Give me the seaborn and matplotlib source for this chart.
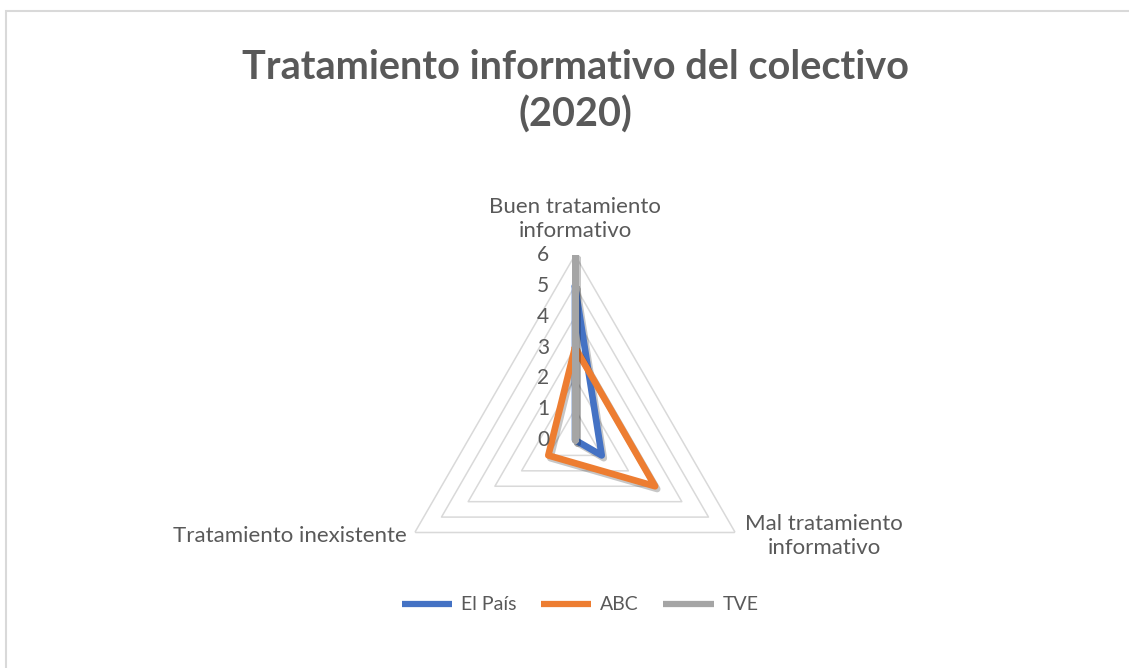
import numpy as np
import pandas as pd
import matplotlib
matplotlib.use("Agg")
import matplotlib.pyplot as plt
import matplotlib.patheffects as pe
from matplotlib.patches import Rectangle
import seaborn as sns

# datos del grafico
categorias = ["Buen tratamiento\ninformativo", "Mal tratamiento\ninformativo", "Tratamiento inexistente"]
el_pais = [5, 1, 0]
abc = [3, 3, 1]
tve = [6, 0, 0]
series = ["El País", "ABC", "TVE"]
colores = ["#4472C4", "#ED7D31", "#A5A5A5"]
niveles = [0, 1, 2, 3, 4, 5, 6]

sns.set_theme(style="white")
plt.rcParams["font.family"] = ["Lato", "DejaVu Sans"]
gris_txt = "#595959"

fig = plt.figure(figsize=(11.29, 6.68), dpi=100)
cx, cy, rad = 575, 440, 185
ax = fig.add_axes([(cx - rad) / 1129, (668 - cy - rad) / 668, 2 * rad / 1129, 2 * rad / 668],
                  projection="polar")
ax.set_theta_offset(np.pi / 2)
ax.set_theta_direction(-1)

ang = np.linspace(0, 2 * np.pi, len(categorias), endpoint=False)
ang_c = np.append(ang, ang[0])

# anillos triangulares
for r in niveles[1:]:
    ax.plot(ang_c, [r] * len(ang_c), color="#D9D9D9", lw=1.1, zorder=1)

for nombre, vals, col in zip(series, [el_pais, abc, tve], colores):
    df = pd.DataFrame({"ang": ang_c, "val": vals + vals[:1]})
    sns.lineplot(data=df, x="ang", y="val", sort=False, estimator=None, ax=ax,
                 color=col, lw=4.8, label=nombre, zorder=3)

for ln in ax.get_lines()[len(niveles) - 1:]:
    ln.set_solid_joinstyle("round")
    ln.set_solid_capstyle("round")
    ln.set_path_effects([pe.SimpleLineShadow(offset=(1.5, -2), alpha=0.22, shadow_color="black"),
                         pe.Normal()])

ax.set_ylim(0, 6)
ax.grid(False)
ax.set_xticks([])
ax.set_yticks([])
ax.set_xlabel("")
ax.set_ylabel("")
ax.spines["polar"].set_visible(False)
ax.patch.set_alpha(0)

for r in niveles:
    ax.annotate(str(r), xy=(0, r), xytext=(-26, 0), textcoords="offset pixels",
                ha="right", va="center", fontsize=15, color=gris_txt)

ax.annotate(categorias[0], xy=(ang[0], 6), xytext=(0, 14), textcoords="offset pixels",
            ha="center", va="bottom", fontsize=16, color=gris_txt, multialignment="center",
            linespacing=1.25)
ax.annotate(categorias[1], xy=(ang[1], 6), xytext=(10, -3), textcoords="offset pixels",
            ha="left", va="center", fontsize=16, color=gris_txt, multialignment="center",
            linespacing=1.25)
ax.annotate(categorias[2], xy=(ang[2], 6), xytext=(-8, -4), textcoords="offset pixels",
            ha="right", va="center", fontsize=16, color=gris_txt)

handles, labels = ax.get_legend_handles_labels()
ax.get_legend().remove()
leg = fig.legend(handles, labels, loc="center", bbox_to_anchor=(580 / 1129, 1 - 605 / 668),
                 ncol=3, frameon=False, fontsize=14, handlelength=2.6, columnspacing=1.25,
                 handletextpad=0.45)
for t in leg.get_texts():
    t.set_color(gris_txt)
for h in leg.get_lines():
    h.set_linewidth(4.5)
    h.set_solid_capstyle("butt")
    h.set_path_effects([])

fig.text(575 / 1129, 1 - 91 / 668, "Tratamiento informativo del colectivo\n(2020)",
         ha="center", va="center", fontsize=28.5, fontweight="bold", color=gris_txt,
         linespacing=1.3)

# borde del area del grafico
fig.add_artist(Rectangle((6 / 1129, -0.1), 1.2, 1.1 - 11 / 668, transform=fig.transFigure,
                         fill=False, edgecolor="#D9D9D9", lw=1.5))

fig.savefig("out.png", dpi=100)
